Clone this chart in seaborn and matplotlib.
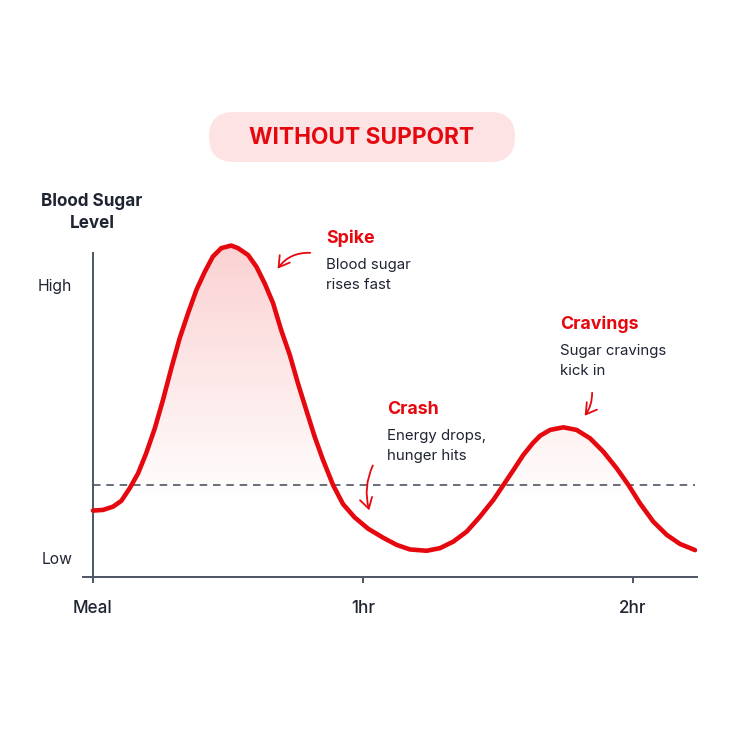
import numpy as np
import matplotlib
matplotlib.use('Agg')
import matplotlib.pyplot as plt
import seaborn as sns
from matplotlib.patches import FancyBboxPatch, FancyArrowPatch

# Curve (time in hours after meal, level in relative units)
time_hr = [0.000, 0.037, 0.074, 0.105, 0.136, 0.167, 0.197, 0.229, 0.259, 0.290,
           0.321, 0.352, 0.383, 0.414, 0.444, 0.475, 0.512, 0.537, 0.574, 0.605,
           0.636, 0.667, 0.697, 0.729, 0.759, 0.790, 0.821, 0.852, 0.889, 0.926,
           0.969, 1.019, 1.075, 1.125, 1.174, 1.236, 1.285, 1.334, 1.384, 1.433,
           1.483, 1.520, 1.557, 1.594, 1.630, 1.656, 1.693, 1.742, 1.791, 1.841,
           1.890, 1.940, 1.983, 2.026, 2.075, 2.125, 2.174, 2.230]
level = [20.5, 20.7, 21.7, 23.5, 27.4, 32.0, 38.2, 45.9, 54.6, 64.4,
         73.7, 81.4, 88.6, 94.2, 98.9, 101.5, 102.3, 101.5, 99.4, 95.8,
         90.6, 84.5, 76.2, 68.5, 59.8, 51.5, 43.3, 36.1, 28.4, 22.5,
         18.4, 14.9, 12.1, 9.9, 8.5, 8.1, 8.9, 10.9, 14.0, 18.6,
         23.8, 28.4, 33.0, 37.7, 41.4, 43.6, 45.4, 46.2, 45.4, 42.8,
         38.7, 33.5, 28.4, 22.7, 17.1, 13.0, 10.2, 8.3]
baseline_level = 28.3

x_tick_pos = [0, 1, 2]
x_tick_labels = ['Meal', '1hr', '2hr']
y_tick_pos = [6, 90]
y_tick_labels = ['Low', 'High']

notes = [
    ('Spike', 'Blood sugar\nrises fast'),
    ('Crash', 'Energy drops,\nhunger hits'),
    ('Cravings', 'Sugar cravings\nkick in'),
]

RED = '#e6080f'
DARK = '#1f2432'
GREY = '#4d5463'

sns.set_theme(style='white')
plt.rcParams['font.family'] = ['Inter', 'DejaVu Sans']

W, H = 732, 746
fig = plt.figure(figsize=(W / 100, H / 100), dpi=100)
fig.patch.set_facecolor('white')


def px(x, y):
    return x / W, 1 - y / H


ax = fig.add_axes([83 / W, (H - 577) / H, 614 / W, 110 * 3.24 / H])
ax.set_facecolor('none')

sns.lineplot(x=time_hr, y=level, color=RED, lw=3.3, ax=ax, zorder=4,
             solid_joinstyle='round', solid_capstyle='round')
ax.hlines(baseline_level, 0, time_hr[-1], colors=GREY, linestyles=(0, (4.5, 3.5)),
          lw=1.2, zorder=2)

# soft pink gradient under the curve
poly = ax.fill_between(time_hr, level, 0, color='none', lw=0)
ny = 300
lv = np.linspace(0, 110, ny)
alpha = np.clip((lv - 24) / (102 - 24), 0, 1) ** 0.9 * 0.2
img = np.zeros((ny, 2, 4))
img[..., 0] = 0.93
img[..., 1] = 0.12
img[..., 2] = 0.14
img[..., 3] = alpha[:, None]
im = ax.imshow(img, extent=[time_hr[0], time_hr[-1], 0, 110], origin='lower',
               aspect='auto', zorder=1, interpolation='bilinear')
im.set_clip_path(poly.get_paths()[0], transform=ax.transData)

ax.set_xlim(-10 / 270, 604 / 270)
ax.set_ylim(0, 110)
for s in ['top', 'right']:
    ax.spines[s].set_visible(False)
ax.spines['left'].set_position(('data', 0))
ax.spines['left'].set_bounds(0, 100)
for s in ['left', 'bottom']:
    ax.spines[s].set_color(GREY)
    ax.spines[s].set_linewidth(1.4)

ax.set_xticks(x_tick_pos)
ax.set_xticklabels(x_tick_labels, fontsize=12.3, color=DARK, fontweight='medium')
ax.tick_params(axis='x', direction='out', length=4.5, width=1.4, color=GREY, pad=12,
               bottom=True)
ax.set_yticks(y_tick_pos)
ax.set_yticklabels(y_tick_labels, fontsize=11.3, color=DARK)
ax.tick_params(axis='y', length=0, pad=15)
ax.grid(False)
ax.set_xlabel('')
ax.set_ylabel('')

# axis title
for i, t in enumerate(['Blood Sugar', 'Level']):
    fig.text(*px(92, 201 + 22 * i), t, ha='center', va='center', fontsize=12.3,
             fontweight='bold', color=DARK)

# title pill
x0, y0 = px(209, 162)
pill = FancyBboxPatch((x0, y0), 306 / W, 50 / H,
                      boxstyle='round,pad=0,rounding_size=0.034',
                      mutation_aspect=W / H,
                      transform=fig.transFigure, fc='#fde3e3', ec='none')
fig.patches.append(pill)
fig.text(*px(362, 138), 'WITHOUT SUPPORT', ha='center', va='center', fontsize=16.3,
         fontweight='bold', color=RED)

# annotations
note_xy = [(326, 238), (387, 409), (560, 324)]
for (head, body), (nx, ny_) in zip(notes, note_xy):
    fig.text(*px(nx, ny_), head, ha='left', va='center', fontsize=12.8,
             fontweight='bold', color=RED)
    for j, t in enumerate(body.split('\n')):
        fig.text(*px(nx, ny_ + 27 + 20 * j), t, ha='left', va='center', fontsize=10.8,
                 color=DARK)

arrows = [((313, 253), (276, 271), 0.3),
          ((374, 463), (370, 513), 0.2),
          ((592, 390), (583, 418), -0.2)]
for start, end, rad in arrows:
    fig.add_artist(FancyArrowPatch(
        px(*start), px(*end), transform=fig.transFigure,
        arrowstyle='->,head_length=5,head_width=3', mutation_scale=1.5,
        connectionstyle=f'arc3,rad={rad}', color=RED, lw=1.3))

fig.savefig('out.png', dpi=100, facecolor='white')
